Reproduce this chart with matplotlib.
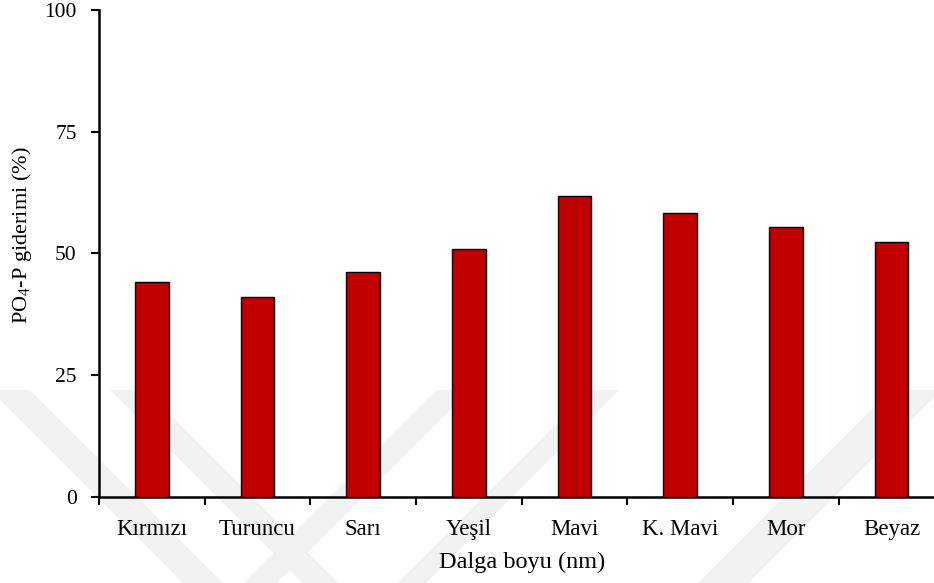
import numpy as np
import matplotlib
matplotlib.use("Agg")
import matplotlib.pyplot as plt
from matplotlib.patches import Polygon

plt.rcParams['font.family'] = ['Liberation Serif', 'DejaVu Serif']
plt.rcParams['mathtext.fontset'] = 'custom'
plt.rcParams['mathtext.rm'] = 'Liberation Serif'

# veriler
renkler = ["Kırmızı", "Turuncu", "Sarı", "Yeşil", "Mavi", "K. Mavi", "Mor", "Beyaz"]
giderim = [44.2, 41.0, 46.1, 50.9, 61.7, 58.4, 55.4, 52.3]
y_ticks = [0, 25, 50, 75, 100]

W, H = 934, 583
fig = plt.figure(figsize=(W / 100, H / 100), dpi=100)

# arka plandaki soluk filigran (yaklasik)
def serit(x0, genislik, yon):
    # yon=+1 asagi-saga, yon=-1 asagi-sola; 45 derece
    d = (H - 390) * yon
    pts = [(x0, 390), (x0 + genislik, 390), (x0 + genislik + d, H), (x0 + d, H)]
    pts = [(px / W, 1 - py / H) for px, py in pts]
    fig.patches.append(Polygon(pts, closed=True, transform=fig.transFigure,
                               facecolor="#f1f1f1", edgecolor="none", zorder=-5))

serit(-10, 40, 1)
serit(110, 35, 1)
serit(437, 33, -1)
serit(591, 28, -1)
serit(891, 50, -1)

ax = fig.add_axes([0.106, 0.1475, 0.905, 0.8355])
ax.set_zorder(2)
ax.patch.set_alpha(0)

x = np.arange(len(renkler))
ax.bar(x, giderim, width=0.32, color="#C00000", edgecolor="black", linewidth=1.0, zorder=3)

ax.set_xlim(-0.5, len(renkler) - 0.5)
ax.set_ylim(0, 100)
ax.set_yticks(y_ticks)

# kategori sinirlarinda tick, ortada etiket
ax.set_xticks(np.arange(len(renkler) + 1) - 0.5)
ax.set_xticklabels([])
ax.set_xticks(x, minor=True)
ax.set_xticklabels(renkler, minor=True)
ax.tick_params(axis="x", which="minor", length=0, pad=16, labelsize=16.5)
ax.tick_params(axis="x", which="major", direction="out", length=6, width=1.5)
ax.tick_params(axis="y", direction="out", length=6, width=1.5, labelsize=15.5, pad=10)

for s in ["top", "right"]:
    ax.spines[s].set_visible(False)
for s in ["left", "bottom"]:
    ax.spines[s].set_linewidth(1.8)

ax.set_xlabel("Dalga boyu (nm)", fontsize=17.5)
ax.xaxis.set_label_coords((521.5 - 99) / 845, -0.113)
ax.set_ylabel(r"$\mathregular{PO_4}$-P giderimi (%)", fontsize=16)
ax.yaxis.set_label_coords(-0.077, 0.538)

fig.savefig("out.png", dpi=100)
